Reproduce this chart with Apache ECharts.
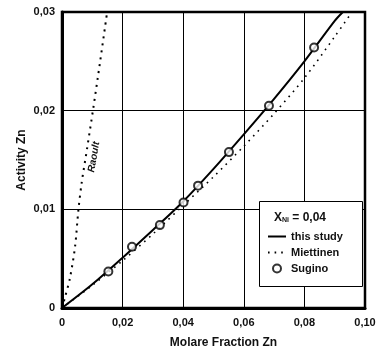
<!DOCTYPE html>
<html>
<head>
<meta charset="utf-8">
<script src="https://cdn.jsdelivr.net/npm/echarts@6/dist/echarts.min.js"></script>
<style>
  html, body { margin: 0; padding: 0; background: #fff; }
  #chart { width: 383px; height: 355px; }
</style>
</head>
<body>
<div id="chart"></div>
<script>
// values
var studyX = [0, 0.01, 0.02, 0.03, 0.04, 0.05, 0.06, 0.07, 0.08, 0.09, 0.0927];
var studyY = [0, 0.0024, 0.0051, 0.0079, 0.0108, 0.0141, 0.0176, 0.0212, 0.0250, 0.0291, 0.030];

var miettX = [0, 0.01, 0.02, 0.03, 0.04, 0.05, 0.06, 0.07, 0.08, 0.09, 0.0957];
var miettY = [0, 0.0023, 0.0048, 0.0075, 0.0104, 0.0133, 0.0164, 0.0197, 0.0233, 0.0275, 0.030];

var suginoX = [0.0153, 0.0231, 0.0323, 0.0401, 0.0449, 0.0551, 0.0683, 0.0832];
var suginoY = [0.0037, 0.0062, 0.0084, 0.0107, 0.0124, 0.0158, 0.0205, 0.0264];

var raoultX = [0, 0.001, 0.0026, 0.0043, 0.0054, 0.0065, 0.0083, 0.0103, 0.0125, 0.0149];
var raoultY = [0, 0.0011, 0.0030, 0.0062, 0.0099, 0.0127, 0.0162, 0.0202, 0.0248, 0.030];

var xTicks = [0, 0.02, 0.04, 0.06, 0.08, 0.10];
var yTicks = [0, 0.01, 0.02, 0.03];

function pairs(xs, ys) {
  return xs.map(function (x, i) { return [x, ys[i]]; });
}
function fmt(v) {
  return v === 0 ? '0' : v.toFixed(2).replace('.', ',');
}

var font = 'Liberation Sans, Arial, sans-serif';
var chart = echarts.init(document.getElementById('chart'));

chart.setOption({
  animation: false,
  textStyle: { fontFamily: font, color: '#000' },
  grid: {
    left: 62, right: 18, top: 12, bottom: 47,
    show: true, borderColor: '#000', borderWidth: 2.5
  },
  xAxis: {
    type: 'value', min: xTicks[0], max: xTicks[xTicks.length - 1], interval: 0.02,
    name: 'Molare Fraction Zn', nameLocation: 'middle', nameGap: 29,
    nameTextStyle: { fontSize: 12, fontWeight: 'bold', color: '#111', padding: [0, 0, 0, 20] },
    axisLine: { lineStyle: { color: '#000', width: 3 } },
    axisTick: { show: false },
    axisLabel: { formatter: fmt, fontSize: 11, fontWeight: 'bold', color: '#111', margin: 9 },
    splitLine: { lineStyle: { color: '#000', width: 1 } }
  },
  yAxis: {
    type: 'value', min: yTicks[0], max: yTicks[yTicks.length - 1], interval: 0.01,
    name: 'Activity Zn', nameLocation: 'middle', nameGap: 34, nameMoveOverlap: false,
    nameTextStyle: { fontSize: 12, fontWeight: 'bold', color: '#111' },
    axisLine: { lineStyle: { color: '#000', width: 3 } },
    axisTick: { show: false },
    axisLabel: { formatter: fmt, fontSize: 11, fontWeight: 'bold', color: '#111', margin: 7 },
    splitLine: { lineStyle: { color: '#000', width: 1 } }
  },
  legend: {
    orient: 'vertical', left: 267, top: 231, z: 20, padding: 0,
    itemWidth: 18, itemHeight: 8, itemGap: 5,
    textStyle: { fontSize: 11, fontWeight: 'bold', color: '#111' },
    data: [
      { name: 'this study', itemStyle: { opacity: 0 } },
      { name: 'Miettinen', itemStyle: { opacity: 0 } },
      { name: 'Sugino', icon: 'circle' }
    ]
  },
  graphic: [
    {
      type: 'rect', z: 10,
      shape: { x: 259.5, y: 201.5, width: 103, height: 85 },
      style: { fill: '#fff', stroke: '#000', lineWidth: 1 }
    },
    {
      type: 'text', z: 11, x: 300, y: 218,
      style: {
        text: 'X{s|Ni} = 0,04',
        font: 'bold 12px ' + font, fill: '#111',
        align: 'center', verticalAlign: 'middle',
        rich: { s: { fontSize: 7, fontWeight: 'bold', verticalAlign: 'bottom', padding: [5, 0, 0, 0] } }
      }
    },
    {
      type: 'text', z: 11, x: 94, y: 157, rotation: Math.PI * 80 / 180,
      style: {
        text: 'Raoult', font: 'italic bold 10px ' + font, fill: '#111',
        align: 'center', verticalAlign: 'middle'
      }
    }
  ],
  series: [
    {
      name: 'Raoult', type: 'line', data: pairs(raoultX, raoultY),
      symbol: 'none', smooth: 0.3, silent: true,
      lineStyle: { color: '#000', width: 2, type: [2, 5] }
    },
    {
      name: 'Miettinen', type: 'line', data: pairs(miettX, miettY),
      symbol: 'none', smooth: 0.3,
      lineStyle: { color: '#000', width: 1.6, type: [1.6, 5] },
      itemStyle: { color: '#000' }
    },
    {
      name: 'this study', type: 'line', data: pairs(studyX, studyY),
      symbol: 'none', smooth: 0.3,
      lineStyle: { color: '#000', width: 2 },
      itemStyle: { color: '#000' }
    },
    {
      name: 'Sugino', type: 'scatter', data: pairs(suginoX, suginoY),
      symbol: 'circle', symbolSize: 8, z: 5,
      itemStyle: { color: '#fff', borderColor: '#000', borderWidth: 2 }
    }
  ]
});
</script>
</body>
</html>
